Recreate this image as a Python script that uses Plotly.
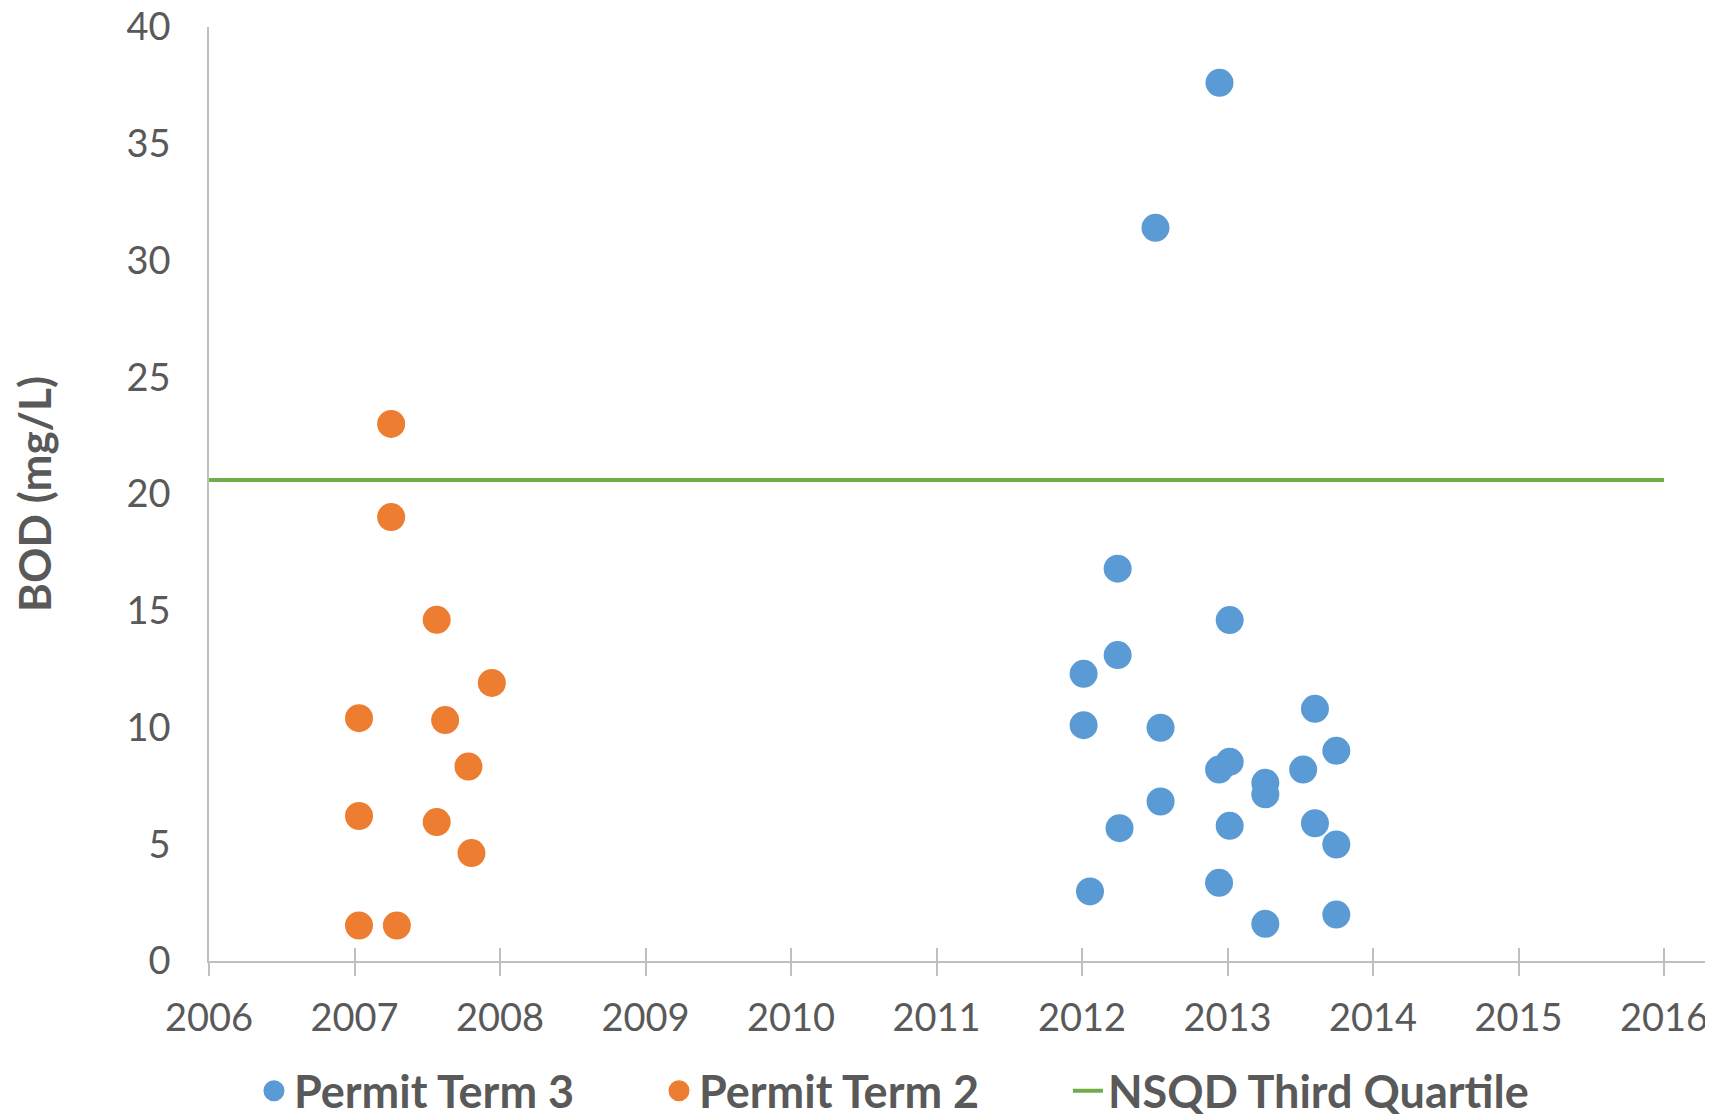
import plotly.graph_objects as go

# Permit Term 3 (blue)
term3_year = [2012.945, 2012.505, 2012.245, 2013.015, 2012.245, 2012.011, 2013.601, 2012.011,
              2012.540, 2013.748, 2013.015, 2012.942, 2013.520, 2013.260, 2013.260, 2012.540,
              2012.258, 2013.015, 2013.601, 2013.748, 2012.055, 2012.942, 2013.260, 2013.748]
term3_bod = [37.61, 31.40, 16.80, 14.60, 13.10, 12.30, 10.80, 10.10,
             9.99, 9.00, 8.53, 8.20, 8.20, 7.63, 7.14, 6.83,
             5.69, 5.79, 5.90, 4.99, 2.98, 3.35, 1.59, 1.99]

# Permit Term 2 (orange)
term2_year = [2007.252, 2007.252, 2007.565, 2007.944, 2007.031, 2007.623,
              2007.783, 2007.031, 2007.565, 2007.804, 2007.031, 2007.291]
term2_bod = [23.00, 19.01, 14.61, 11.91, 10.40, 10.32,
             8.33, 6.21, 5.95, 4.62, 1.52, 1.52]

# NSQD Third Quartile
nsqd_year = [2006, 2016]
nsqd_bod = [20.6, 20.6]

x_ticks = list(range(2006, 2017))
y_ticks = list(range(0, 41, 5))

BLUE = "#5B9BD5"
ORANGE = "#ED7D31"
GREEN = "#70AD47"
GRAY_TXT = "#595959"
AXIS = "#BFBFBF"

W, H = 1705, 1108
L, T, B = 201, 19, 154.5
xmax = 2006 + (W - L) / 145.5
legend_y = 1 - 1083 / H

fig = go.Figure()
fig.add_trace(go.Scatter(x=term3_year, y=term3_bod, mode="markers", name="Permit Term 3",
                         legend="legend",
                         marker=dict(color=BLUE, size=23, line=dict(width=5, color=BLUE))))
fig.add_trace(go.Scatter(x=term2_year, y=term2_bod, mode="markers", name="Permit Term 2",
                         legend="legend2",
                         marker=dict(color=ORANGE, size=23, line=dict(width=5, color=ORANGE))))
fig.add_trace(go.Scatter(x=nsqd_year, y=nsqd_bod, mode="lines", name="NSQD Third Quartile",
                         legend="legend3",
                         line=dict(color=GREEN, width=4)))
# invisible trace on overlay axis to draw the inner half of the crossing tick marks
fig.add_trace(go.Scatter(x=[2006], y=[0], xaxis="x2", mode="markers",
                         marker=dict(opacity=0), showlegend=False, hoverinfo="skip"))

legend_font = dict(family="Lato", size=45, color=GRAY_TXT, weight="bold")


def legend_box(xpos):
    return dict(orientation="h", xref="paper", x=xpos, xanchor="left",
                yref="container", y=legend_y, yanchor="middle",
                font=legend_font, itemsizing="trace", bgcolor="rgba(0,0,0,0)")


fig.update_layout(
    width=W, height=H,
    margin=dict(l=L, r=0, t=T, b=B, autoexpand=False),
    paper_bgcolor="white", plot_bgcolor="white",
    font=dict(family="Lato", color=GRAY_TXT, size=38),
    showlegend=True,
    legend=legend_box(0.0299),
    legend2=legend_box(0.2992),
    legend3=legend_box(0.5711),
    xaxis=dict(range=[2006, xmax], tickmode="array", tickvals=x_ticks,
               ticktext=[str(v) for v in x_ticks], automargin=False,
               ticklabeloverflow="allow",
               showgrid=False, zeroline=False, showline=True, linecolor=AXIS, linewidth=1.5,
               ticks="outside", ticklen=13, tickwidth=1.5, tickcolor=AXIS,
               ticklabelstandoff=10,
               tickfont=dict(family="Lato", size=38, color=GRAY_TXT)),
    xaxis2=dict(range=[2006, xmax], overlaying="x", anchor="y", side="bottom",
                tickmode="array", tickvals=x_ticks, showticklabels=False, automargin=False,
                showgrid=False, zeroline=False, showline=False,
                ticks="inside", ticklen=13, tickwidth=1.5, tickcolor=AXIS),
    yaxis=dict(range=[0, 40], tickmode="array", tickvals=y_ticks,
               ticktext=[str(v) for v in y_ticks], automargin=False,
               ticklabeloverflow="allow",
               showgrid=False, zeroline=False, showline=True, linecolor=AXIS, linewidth=1.5,
               ticks="", ticklabelstandoff=29,
               tickfont=dict(family="Lato", size=38, color=GRAY_TXT),
               title=dict(text="BOD (mg/L)", standoff=65,
                          font=dict(family="Lato", size=44, color=GRAY_TXT, weight="bold"))),
)

fig.write_html("out.html")
